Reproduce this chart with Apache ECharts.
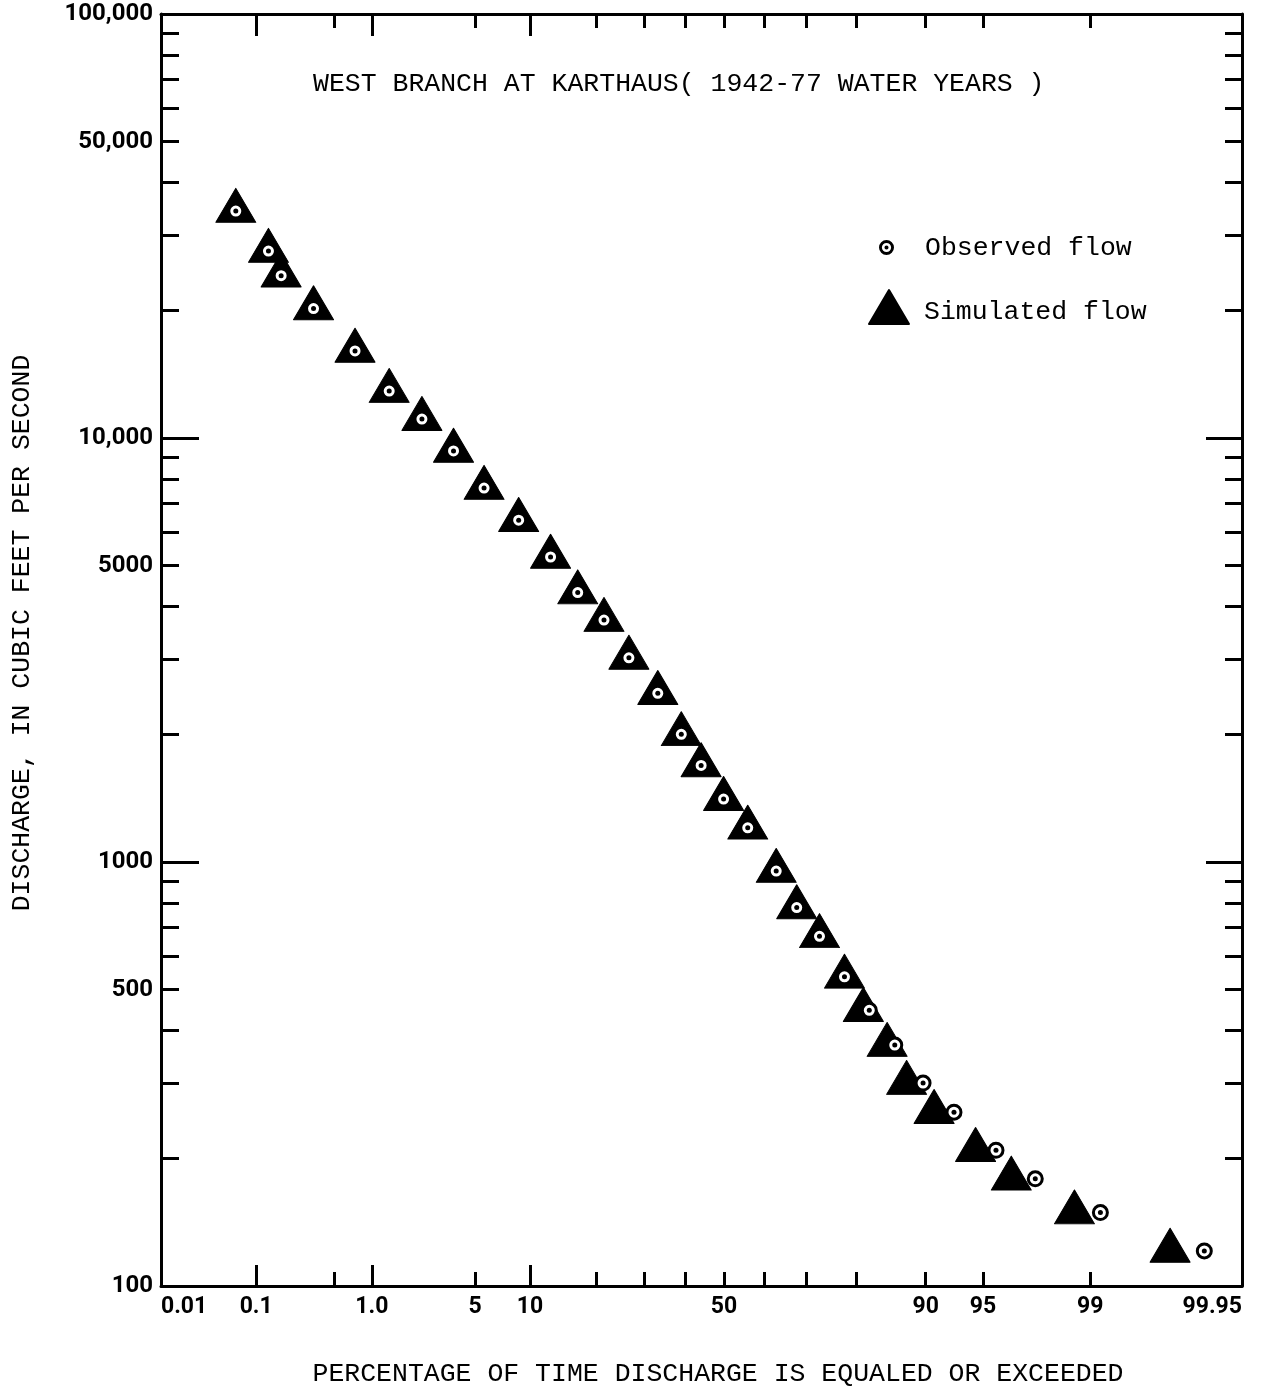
<!DOCTYPE html>
<html>
<head>
<meta charset="utf-8">
<title>West Branch at Karthaus</title>
<script src="https://cdn.jsdelivr.net/npm/echarts@6/dist/echarts.min.js"></script>
<style>
  html, body { margin: 0; padding: 0; background: #fff; }
  #main { width: 1264px; height: 1392px; }
</style>
</head>
<body>
<div id="main"></div>
<script>
// percent of time equaled or exceeded, observed flow
var observedPct = [0.063, 0.131, 0.172, 0.335, 0.74, 1.35, 2.3, 3.7, 5.65, 8.75,
  12.6, 16.7, 21.4, 26.5, 33.1, 38.9, 44.0, 49.9, 56.0, 63.0,
  67.8, 72.8, 77.8, 82.2, 86.1, 89.7, 92.8, 95.8, 97.6, 99.16, 99.886];
// percent of time equaled or exceeded, simulated flow
var simulatedPct = [0.063, 0.131, 0.172, 0.335, 0.74, 1.35, 2.3, 3.7, 5.65, 8.75,
  12.6, 16.7, 21.4, 26.5, 33.1, 38.9, 44.0, 49.9, 56.0, 63.0,
  67.8, 72.8, 77.8, 81.2, 85.0, 87.7, 90.9, 94.5, 96.6, 98.7, 99.77];
// discharge classes (cfs), same for both series
var discharge = [34300, 27600, 24150, 20200, 16050, 12900, 11080, 9320, 7620, 6400,
  5240, 4320, 3720, 3030, 2500, 2000, 1690, 1407, 1204, 952,
  781, 668, 536, 447, 370, 301, 257, 209, 179, 149, 121];

var xLabelPct = [0.01, 0.1, 1, 5, 10, 50, 90, 95, 99, 99.95];
var xLabelText = ["0.01", "0.1", "1.0", "5", "10", "50", "90", "95", "99", "99.95"];
var xMajorTickPct = [0.1, 1, 10];
var xMinorTickPct = [0.5, 5, 20, 30, 40, 50, 60, 70, 80, 90, 95, 99];

var yLabelValues = [100, 500, 1000, 5000, 10000, 50000, 100000];
var yLabelText = ["100", "500", "1000", "5000", "10,000", "50,000", "100,000"];
var yMajorTickValues = [1000, 10000];
var yMinorTickValues = [200, 300, 400, 500, 600, 700, 800, 900,
  2000, 3000, 4000, 5000, 6000, 7000, 8000, 9000,
  20000, 30000, 40000, 50000, 60000, 70000, 80000, 90000];

// probability paper: normal quantile (the printed sheet is a bit wider right of 50)
var RIGHT_STRETCH = 1.04;

function qnorm(p) {
  var a = [-3.969683028665376e+01, 2.209460984245205e+02, -2.759285104469687e+02,
    1.383577518672690e+02, -3.066479806614716e+01, 2.506628277459239e+00];
  var b = [-5.447609879822406e+01, 1.615858368580409e+02, -1.556989798598866e+02,
    6.680131188771972e+01, -1.328068155288572e+01];
  var c = [-7.784894002430293e-03, -3.223964580411365e-01, -2.400758277161838e+00,
    -2.549732539343734e+00, 4.374664141464968e+00, 2.938163982698783e+00];
  var d = [7.784695709041462e-03, 3.224671290700398e-01, 2.445134137142996e+00,
    3.754408661907416e+00];
  var pl = 0.02425, q, r;
  if (p < pl) {
    q = Math.sqrt(-2 * Math.log(p));
    return (((((c[0] * q + c[1]) * q + c[2]) * q + c[3]) * q + c[4]) * q + c[5]) /
      ((((d[0] * q + d[1]) * q + d[2]) * q + d[3]) * q + 1);
  }
  if (p <= 1 - pl) {
    q = p - 0.5;
    r = q * q;
    return (((((a[0] * r + a[1]) * r + a[2]) * r + a[3]) * r + a[4]) * r + a[5]) * q /
      (((((b[0] * r + b[1]) * r + b[2]) * r + b[3]) * r + b[4]) * r + 1);
  }
  q = Math.sqrt(-2 * Math.log(1 - p));
  return -(((((c[0] * q + c[1]) * q + c[2]) * q + c[3]) * q + c[4]) * q + c[5]) /
    ((((d[0] * q + d[1]) * q + d[2]) * q + d[3]) * q + 1);
}

function toX(pct) {
  var z = qnorm(pct / 100);
  return z > 0 ? z * RIGHT_STRETCH : z;
}
function toY(v) {
  return Math.log10(v);
}

var xMin = toX(xLabelPct[0]);
var xMax = toX(xLabelPct[xLabelPct.length - 1]);
var xLabelPos = xLabelPct.map(toX);

function xLabel(val) {
  for (var i = 0; i < xLabelPos.length; i++) {
    if (Math.abs(xLabelPos[i] - val) < 1e-6) return xLabelText[i];
  }
  return "";
}
function yLabel(val) {
  for (var i = 0; i < yLabelValues.length; i++) {
    if (Math.abs(toY(yLabelValues[i]) - val) < 1e-6) return yLabelText[i];
  }
  return "";
}

var mono = "Liberation Mono";
var sans = "Roboto";
var ink = "#000";

function xAx(position, ticks, len, main) {
  return {
    type: "value",
    position: position,
    min: xMin,
    max: xMax,
    splitLine: { show: false },
    axisLine: { show: main, onZero: false, lineStyle: { color: ink, width: 3 } },
    axisTick: {
      show: true, inside: true, length: len, customValues: ticks.map(toX),
      lineStyle: { color: ink, width: 3 }
    },
    axisLabel: { show: false }
  };
}
function yAx(position, ticks, len, main) {
  return {
    type: "value",
    position: position,
    min: 2,
    max: 5,
    splitLine: { show: false },
    axisLine: { show: main, onZero: false, lineStyle: { color: ink, width: 3 } },
    axisTick: {
      show: true, inside: true, length: len, customValues: ticks.map(toY),
      lineStyle: { color: ink, width: 3 }
    },
    axisLabel: { show: false }
  };
}

var xBottom = xAx("bottom", xMinorTickPct, 14, true);
xBottom.axisLabel = {
  show: true,
  customValues: xLabelPos,
  formatter: xLabel,
  margin: 10,
  color: ink,
  fontFamily: sans,
  fontWeight: "bold",
  fontSize: 23,
  alignMinLabel: "left",
  alignMaxLabel: "right"
};
xBottom.name = "PERCENTAGE OF TIME DISCHARGE IS EQUALED OR EXCEEDED";
xBottom.nameLocation = "middle";
xBottom.nameGap = 74;
xBottom.nameTextStyle = { fontFamily: mono, fontSize: 26.5, color: ink, padding: [0, 0, 0, 33] };

var yLeft = yAx("left", yMinorTickValues, 18, true);
yLeft.axisLabel = {
  show: true,
  customValues: yLabelValues.map(toY),
  formatter: yLabel,
  margin: 8,
  color: ink,
  fontFamily: sans,
  fontWeight: "bold",
  fontSize: 24
};
yLeft.name = "DISCHARGE, IN CUBIC FEET PER SECOND";
yLeft.nameLocation = "middle";
yLeft.nameGap = 126;
yLeft.nameTextStyle = { fontFamily: mono, fontSize: 26.5, color: ink, padding: [0, 0, 0, 34] };

function pairs(pcts) {
  return pcts.map(function (p, i) {
    return [toX(p), toY(discharge[i])];
  });
}

var ringDot = "path://M7,0A7,7,0,1,1,-7,0A7,7,0,1,1,7,0Z" +
  "M4.3,0A4.3,4.3,0,1,0,-4.3,0A4.3,4.3,0,1,0,4.3,0Z" +
  "M1.9,0A1.9,1.9,0,1,1,-1.9,0A1.9,1.9,0,1,1,1.9,0Z";

var chart = echarts.init(document.getElementById("main"));
chart.setOption({
  animation: false,
  backgroundColor: "#fff",
  title: {
    text: "WEST BRANCH AT KARTHAUS( 1942-77 WATER YEARS )",
    left: 313,
    top: 70,
    padding: 0,
    textStyle: { fontFamily: mono, fontSize: 26.5, fontWeight: "normal", color: ink }
  },
  legend: [
    {
      left: 879, top: 234, padding: 0,
      itemWidth: 15, itemHeight: 15,
      data: [{ name: "Observed flow", icon: ringDot, itemStyle: { color: ink, borderWidth: 0, opacity: 1 } }],
      textStyle: { fontFamily: mono, fontSize: 26.5, color: ink, padding: [0, 0, 0, 26] }
    },
    {
      left: 868, top: 289, padding: 0,
      itemWidth: 40, itemHeight: 34,
      data: ["Simulated flow"],
      formatter: "{s|{name}}",
      textStyle: {
        fontFamily: mono, fontSize: 26.5, color: ink, padding: [0, 0, 0, 10],
        rich: { s: { fontFamily: mono, fontSize: 26.5, color: ink, padding: [10, 0, 0, 0] } }
      }
    }
  ],
  grid: { left: 157, right: 22, top: 14, bottom: 101, containLabel: false },
  xAxis: [
    xBottom,
    xAx("bottom", xMajorTickPct, 21, false),
    xAx("top", xMinorTickPct, 14, true),
    xAx("top", xMajorTickPct, 22, false)
  ],
  yAxis: [
    yLeft,
    yAx("left", yMajorTickValues, 38, false),
    yAx("right", yMinorTickValues, 17, true),
    yAx("right", yMajorTickValues, 36, false)
  ],
  series: [
    {
      name: "Simulated flow",
      type: "scatter",
      data: pairs(simulatedPct),
      symbol: "triangle",
      symbolSize: [40, 34],
      symbolOffset: [0, -5.7],
      itemStyle: { color: ink, opacity: 1, borderColor: ink, borderWidth: 1, borderJoin: "round" },
      z: 2
    },
    {
      name: "Observed flow",
      type: "scatter",
      data: pairs(observedPct),
      symbol: "circle",
      symbolSize: 14,
      itemStyle: { color: "#fff", opacity: 1, borderColor: ink, borderWidth: 3 },
      z: 3
    },
    {
      name: "observed centre",
      type: "scatter",
      data: pairs(observedPct),
      symbol: "circle",
      symbolSize: 5,
      silent: true,
      itemStyle: { color: ink, opacity: 1 },
      z: 4
    }
  ]
});
</script>
</body>
</html>
